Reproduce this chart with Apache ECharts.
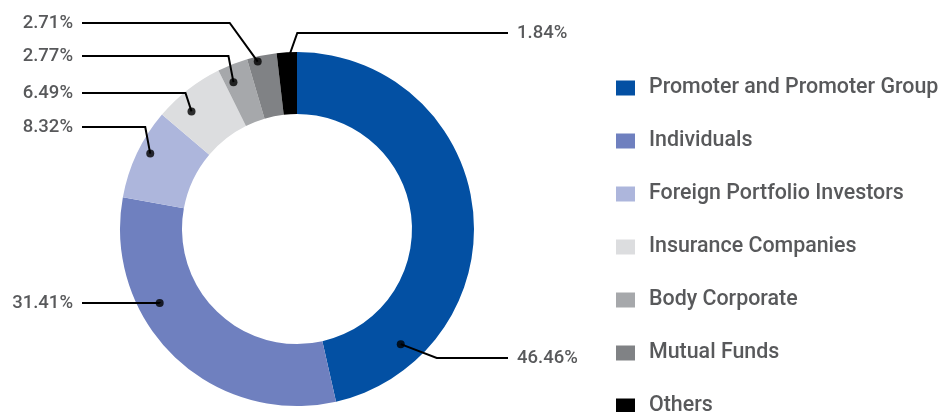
<!DOCTYPE html>
<html>
<head>
<meta charset="utf-8">
<title>Shareholding Pattern</title>
<script src="https://cdn.jsdelivr.net/npm/echarts@6/dist/echarts.min.js"></script>
<style>
  html, body { margin: 0; padding: 0; background: #fff; }
  #chart { width: 938px; height: 412px; }
</style>
</head>
<body>
<div id="chart"></div>
<script>
// 数据
const categories = [
  "Promoter and Promoter Group",
  "Individuals",
  "Foreign Portfolio Investors",
  "Insurance Companies",
  "Body Corporate",
  "Mutual Funds",
  "Others",
];
const shares = [46.46, 31.41, 8.32, 6.49, 2.77, 2.71, 1.84];
const colors = ["#0350a3", "#6f80bf", "#adb6dc", "#dcdddf", "#a6a8ab", "#808285", "#000000"];

// 标签布局（只是位置）
const center = [297, 229];
const outerR = 177;
const innerR = 115;
const anchorR = [155, 156, 165, 158, 160, 172, 168]; // 引线圆点所在半径
const anchorFrac = [0.825, 0.658, 0.563, 0.335, 0.296, 0.326, 0.5]; // 圆点在扇区内的位置比例
const labelOnRight = [true, false, false, false, false, false, true];
const labelY = [358, 303, 127, 93, 56, 23, 33];
const elbowDx = [36, 0, -5, -6, -5, -28, 10];
const lineEndLeft = 82;
const lineEndRight = 508;
const labelGap = 9;

(function () {
  let myChart = echarts.init(document.getElementById("chart"));

  // 累计值 -> 圆点角度（数据值）
  const total = shares.reduce((a, b) => a + b, 0);
  let acc = 0;
  const anchorVal = shares.map(function (v, i) {
    const a = acc + v * anchorFrac[i];
    acc += v;
    return a;
  });

  function anchorPoint(i) {
    const ang = (anchorVal[i] / total) * Math.PI * 2;
    return [center[0] + anchorR[i] * Math.sin(ang), center[1] - anchorR[i] * Math.cos(ang)];
  }

  const textStyle = {
    color: "#58595b",
    fontFamily: "Roboto",
    fontWeight: 500,
  };

  const pieData = categories.map(function (name, i) {
    return { name: name, value: shares[i] };
  });

  let option = {
    color: colors,
    animation: false,
    legend: {
      orient: "vertical",
      left: 616,
      top: 77,
      height: 380,
      padding: 0,
      icon: "rect",
      itemWidth: 19,
      itemHeight: 15,
      itemGap: 31,
      data: categories,
      textStyle: Object.assign({}, textStyle, {
        fontSize: 21.4,
        lineHeight: 22,
        padding: [0, 0, 0, 9],
      }),
    },
    polar: {
      center: center,
      radius: outerR,
    },
    angleAxis: {
      type: "value",
      min: 0,
      max: total,
      startAngle: 90,
      clockwise: true,
      show: false,
    },
    radiusAxis: {
      type: "value",
      min: 0,
      max: outerR,
      show: false,
    },
    series: [
      {
        // 环形图
        name: "Shareholding",
        type: "pie",
        center: center,
        radius: [innerR, outerR],
        startAngle: 90,
        clockwise: true,
        silent: true,
        label: { show: false },
        labelLine: { show: false },
        data: pieData,
      },
      {
        // 透明的同一组扇区，只负责标签和引线（画在环的上面）
        name: "labels",
        type: "pie",
        z: 5,
        center: center,
        radius: [innerR, outerR],
        startAngle: 90,
        clockwise: true,
        avoidLabelOverlap: false,
        silent: true,
        legendHoverLink: false,
        itemStyle: { color: "rgba(0,0,0,0)" },
        data: pieData,
        label: Object.assign({}, textStyle, {
          show: true,
          position: "outside",
          fontSize: 18.5,
          formatter: function (p) {
            return p.value.toFixed(2) + "%";
          },
        }),
        labelLine: {
          show: true,
          lineStyle: { color: "#000", width: 2 },
        },
        // 自定义引线：圆点 -> 拐点 -> 水平线
        labelLayout: function (params) {
          const i = params.dataIndex;
          const p0 = anchorPoint(i);
          const right = labelOnRight[i];
          const y = labelY[i];
          const endX = right ? lineEndRight : lineEndLeft;
          return {
            x: right ? endX + labelGap : endX - labelGap,
            y: y,
            align: right ? "left" : "right",
            verticalAlign: "middle",
            labelLinePoints: [p0, [p0[0] + elbowDx[i], y], [endX, y]],
          };
        },
      },
      {
        // 引线起点的圆点
        name: "anchors",
        type: "scatter",
        coordinateSystem: "polar",
        silent: true,
        z: 10,
        symbol: "circle",
        symbolSize: 8,
        itemStyle: { color: "#000" },
        data: anchorVal.map(function (a, i) {
          return [anchorR[i], a];
        }),
      },
    ],
  };

  myChart.setOption(option);
  window.addEventListener("resize", function () {
    myChart.resize();
  });
})();
</script>
</body>
</html>
